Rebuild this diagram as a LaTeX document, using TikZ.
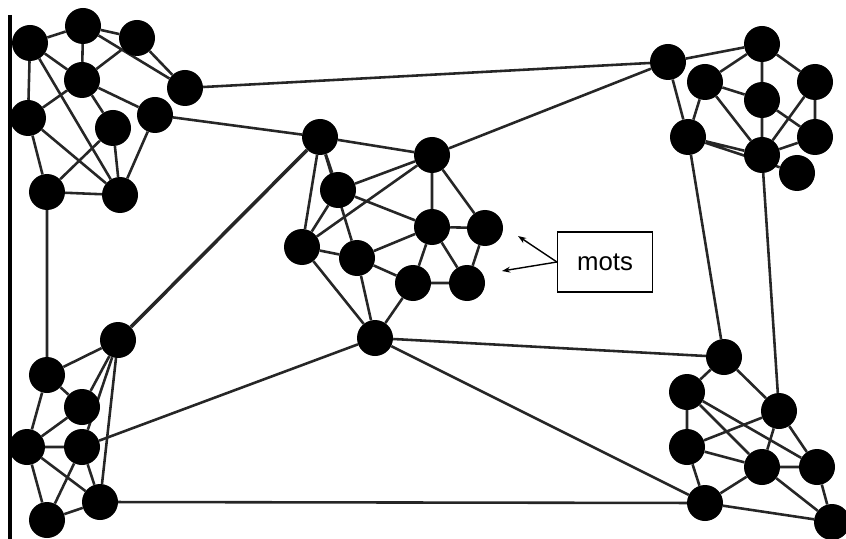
\documentclass[tikz,border=0pt]{standalone}
\usepackage{fontspec}
\newfontfamily\labelfont{Liberation Sans}
\usetikzlibrary{backgrounds,arrows.meta}

\tikzset{
    word/.style={circle, fill=black, minimum size=1.08cm, inner sep=0pt},
    link/.style={draw=black!85, line width=2.2pt},
    tag/.style={draw, line width=1pt, minimum width=2.85cm, minimum height=1.8cm, font=\labelfont\fontsize{22}{26}\selectfont}
}

\begin{document}
\begin{tikzpicture}[x=0.03cm, y=-0.03cm]
        \useasboundingbox (0, 0) rectangle (846, 539);

        % top left
        \node[word] (a1) at (30, 43) {};
        \node[word] (a2) at (83, 26) {};
        \node[word] (a3) at (137, 38) {};
        \node[word] (a4) at (82, 80) {};
        \node[word] (a5) at (185, 88) {};
        \node[word] (a6) at (28, 118) {};
        \node[word] (a7) at (113, 128) {};
        \node[word] (a8) at (155, 115) {};
        \node[word] (a9) at (47, 192) {};
        \node[word] (a10) at (120, 195) {};

        % top right
        \node[word] (b1) at (668, 62) {};
        \node[word] (b2) at (762, 44) {};
        \node[word] (b3) at (705, 82) {};
        \node[word] (b4) at (815, 82) {};
        \node[word] (b5) at (762, 100) {};
        \node[word] (b6) at (688, 137) {};
        \node[word] (b7) at (815, 137) {};
        \node[word] (b8) at (762, 155) {};
        \node[word] (b9) at (797, 173) {};

        % middle
        \node[word] (c1) at (320, 137) {};
        \node[word] (c2) at (432, 155) {};
        \node[word] (c3) at (338, 190) {};
        \node[word] (c4) at (302, 247) {};
        \node[word] (c5) at (432, 227) {};
        \node[word] (c6) at (485, 228) {};
        \node[word] (c7) at (357, 258) {};
        \node[word] (c8) at (413, 283) {};
        \node[word] (c9) at (467, 283) {};
        \node[word] (c10) at (375, 338) {};

        % bottom left
        \node[word] (d1) at (118, 340) {};
        \node[word] (d2) at (47, 375) {};
        \node[word] (d3) at (82, 407) {};
        \node[word] (d4) at (27, 447) {};
        \node[word] (d5) at (82, 447) {};
        \node[word] (d6) at (100, 502) {};
        \node[word] (d7) at (47, 520) {};

        % bottom right
        \node[word] (e1) at (724, 357) {};
        \node[word] (e2) at (687, 392) {};
        \node[word] (e3) at (779, 411) {};
        \node[word] (e4) at (687, 447) {};
        \node[word] (e5) at (762, 467) {};
        \node[word] (e6) at (817, 467) {};
        \node[word] (e7) at (705, 503) {};
        \node[word] (e8) at (832, 522) {};

        \node[tag] (mots) at (605, 262) {mots};

        \begin{scope}[on background layer]
        \draw[line width=3.4pt] (10, 15) -- (10, 539);

        \draw[link] (a1) -- (a2) (a1) -- (a4) (a1) -- (a6) (a1) -- (a10);
        \draw[link] (a2) -- (a3) (a2) -- (a4) (a2) -- (a5) (a3) -- (a5) (a3) -- (a4);
        \draw[link] (a4) -- (a6) (a4) -- (a8) (a4) -- (a7) (a6) -- (a9) (a6) -- (a10);
        \draw[link] (a7) -- (a9) (a7) -- (a10) (a8) -- (a10) (a9) -- (a10);

        \draw[link] (b1) -- (b2) (b1) -- (b6) (b3) -- (b6) (b2) -- (b3) (b2) -- (b5);
        \draw[link] (b2) -- (b4) (b3) -- (b5) (b3) -- (b8) (b4) -- (b7) (b4) -- (b8);
        \draw[link] (b5) -- (b8) (b5) -- (b7) (b6) -- (b8) (b6) -- (b9) (b7) -- (b8);

        \draw[link] (c1) -- (c2) (c1) -- (c3) (c1) -- (c4) (c1) -- (c7) (c3) -- (c4);
        \draw[link] (c2) -- (c3) (c2) -- (c4) (c2) -- (c5) (c2) -- (c6) (c3) -- (c5);
        \draw[link] (c4) -- (c7) (c4) -- (c10) (c5) -- (c7) (c5) -- (c8) (c5) -- (c9);
        \draw[link] (c5) -- (c6) (c6) -- (c9) (c8) -- (c9) (c7) -- (c8) (c7) -- (c10) (c8) -- (c10);

        \draw[link] (d1) -- (d2) (d1) -- (d3) (d1) -- (d5) (d1) -- (d6) (d2) -- (d3);
        \draw[link] (d2) -- (d4) (d3) -- (d4) (d4) -- (d5) (d4) -- (d6) (d4) -- (d7);
        \draw[link] (d5) -- (d7) (d5) -- (d6) (d6) -- (d7);

        \draw[link] (e1) -- (e2) (e1) -- (e3) (e2) -- (e4) (e2) -- (e5) (e2) -- (e6);
        \draw[link] (e3) -- (e4) (e3) -- (e5) (e3) -- (e6) (e4) -- (e5) (e4) -- (e7);
        \draw[link] (e5) -- (e7) (e5) -- (e8) (e6) -- (e8) (e7) -- (e8) (e5) -- (e6);

        % between groups
        \draw[link] (a5) -- (b1) (a8) -- (c1) (a9) -- (d2) (c2) -- (b1);
        \draw[link, line width=3pt] (c1) -- (d1);
        \draw[link] (c10) -- (d5) (c10) -- (e1) (c10) -- (e7);
        \draw[link] (d6) -- (e7) (b6) -- (e1) (b8) -- (e3);
        \end{scope}

        \coordinate (m1) at (518, 236);
        \coordinate (m2) at (502, 271);
        \draw[line width=1.2pt, -{Stealth[length=7pt, width=5pt]}] (mots.west) -- (m1);
        \draw[line width=1.2pt, -{Stealth[length=7pt, width=5pt]}] (mots.west) -- (m2);

    \end{tikzpicture}
\end{document}
